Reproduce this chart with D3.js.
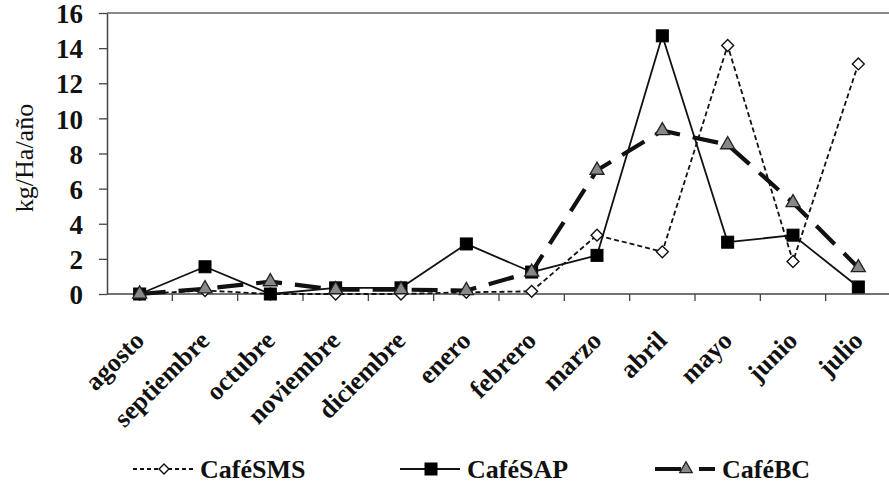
<!DOCTYPE html>
<html>
<head>
<meta charset="utf-8">
<script src="https://cdn.jsdelivr.net/npm/d3@7"></script>
<style>
  html, body { margin: 0; padding: 0; background: #fff; }
  svg { display: block; }
</style>
</head>
<body>
<svg id="chart" width="889" height="489"></svg>
<script>
const months = ["agosto","septiembre","octubre","noviembre","diciembre","enero","febrero","marzo","abril","mayo","junio","julio"];
const cafeSMS = [0, 0.2, 0, 0, 0, 0.1, 0.15, 3.35, 2.4, 14.15, 1.85, 13.1];
const cafeSAP = [0, 1.55, 0, 0.35, 0.35, 2.85, 1.25, 2.2, 14.7, 2.95, 3.35, 0.4];
const cafeBC  = [0, 0.3, 0.7, 0.25, 0.25, 0.2, 1.25, 7.05, 9.3, 8.5, 5.2, 1.5];
const yTicks = [0, 2, 4, 6, 8, 10, 12, 14, 16];
const seriesNames = ["CaféSMS", "CaféSAP", "CaféBC"];
const yLabel = "kg/Ha/año";

(function () {
const svg = d3.select("#chart");
const mLeft = 107, mRight = 891, mTop = 13, mBottom = 294;

const x = d3.scaleBand().domain(months).range([mLeft, mRight]);
const y = d3.scaleLinear().domain([0, 16]).range([mBottom, mTop]);
const cx = d => x(d) + x.bandwidth() / 2;
const serif = "Liberation Serif, Times New Roman, serif";

// top border line
svg.append("line")
  .attr("x1", mLeft).attr("x2", 889)
  .attr("y1", y(16)).attr("y2", y(16))
  .attr("stroke", "#888").attr("stroke-width", 2);

// y axis
const yAxis = svg.append("g")
  .attr("transform", `translate(${mLeft},0)`)
  .call(d3.axisLeft(y).tickValues(yTicks).tickSize(8).tickPadding(16).tickSizeOuter(0));
yAxis.select(".domain").attr("stroke", "#444").attr("stroke-width", 1.5);
yAxis.selectAll(".tick line").attr("stroke", "#444").attr("stroke-width", 1.3);
yAxis.selectAll("text")
  .attr("font-family", serif)
  .attr("font-weight", "bold").attr("font-size", 27).attr("fill", "#111")
  .attr("dy", "0.36em");

// x axis (ticks at band boundaries)
const xAxisG = svg.append("g");
xAxisG.append("line")
  .attr("x1", mLeft).attr("x2", 889).attr("y1", mBottom).attr("y2", mBottom)
  .attr("stroke", "#444").attr("stroke-width", 1.5);
const boundaries = months.map(m => x(m)).slice(1);
xAxisG.selectAll("line.tk").data(boundaries).enter().append("line")
  .attr("class", "tk")
  .attr("x1", d => d).attr("x2", d => d)
  .attr("y1", mBottom).attr("y2", mBottom + 7)
  .attr("stroke", "#444").attr("stroke-width", 1.3);

// x labels
svg.append("g").selectAll("text").data(months).enter().append("text")
  .attr("transform", d => `translate(${cx(d) + 6},${342}) rotate(-45)`)
  .attr("text-anchor", "end")
  .attr("font-family", serif)
  .attr("font-weight", "bold")
  .attr("font-size", 26).attr("fill", "#111")
  .text(d => d);

// y label
svg.append("text")
  .attr("transform", `translate(33,${158}) rotate(-90)`)
  .attr("text-anchor", "middle")
  .attr("font-family", serif)
  .attr("font-size", 26).attr("fill", "#111")
  .text(yLabel);

const lineGen = d3.line().x((d, i) => cx(months[i])).y(d => y(d));

const styles = [
  { data: cafeSMS, stroke: "#111", width: 1.8, dash: "5,3", marker: "diamond" },
  { data: cafeSAP, stroke: "#111", width: 1.8, dash: null, marker: "square" },
  { data: cafeBC,  stroke: "#111", width: 4.2, dash: "26,13", marker: "triangle" }
];

function drawMarker(g, type, px, py, scale) {
  const s = scale || 1;
  if (type === "diamond") {
    g.append("path")
      .attr("d", d3.symbol().type(d3.symbolDiamond2 || d3.symbolDiamond).size(90 * s)())
      .attr("transform", `translate(${px},${py})`)
      .attr("fill", "#fff").attr("stroke", "#111").attr("stroke-width", 1.4);
  } else if (type === "square") {
    const w = 12 * Math.sqrt(s);
    g.append("rect")
      .attr("x", px - w / 2).attr("y", py - w / 2).attr("width", w).attr("height", w)
      .attr("fill", "#000").attr("stroke", "#000").attr("stroke-width", 1);
  } else {
    g.append("path")
      .attr("d", d3.symbol().type(d3.symbolTriangle).size(85 * s)())
      .attr("transform", `translate(${px},${py})`)
      .attr("fill", "#888").attr("stroke", "#222").attr("stroke-width", 1.3);
  }
}

styles.forEach(st => {
  const g = svg.append("g");
  g.append("path").datum(st.data)
    .attr("d", lineGen)
    .attr("fill", "none").attr("stroke", st.stroke)
    .attr("stroke-width", st.width)
    .attr("stroke-dasharray", st.dash)
    .attr("stroke-linejoin", "round");
  st.data.forEach((v, i) => drawMarker(g, st.marker, cx(months[i]), y(v)));
});

// legend
const legendX = [133, 400, 655];
const legY = 469;
styles.forEach((st, i) => {
  const g = svg.append("g");
  const x0 = legendX[i];
  g.append("line")
    .attr("x1", x0).attr("x2", x0 + 60).attr("y1", legY).attr("y2", legY)
    .attr("stroke", st.stroke).attr("stroke-width", st.width)
    .attr("stroke-dasharray", i === 0 ? "4,3" : (i === 2 ? "26,18" : null));
  drawMarker(g, st.marker, x0 + 31, legY, i === 2 ? 0.8 : (i === 0 ? 0.7 : 1));
  g.append("text")
    .attr("x", x0 + 67).attr("y", legY + 9)
    .attr("font-family", serif)
    .attr("font-weight", "bold").attr("font-size", 26).attr("fill", "#111")
    .text(seriesNames[i]);
});
})();
</script>
</body>
</html>
